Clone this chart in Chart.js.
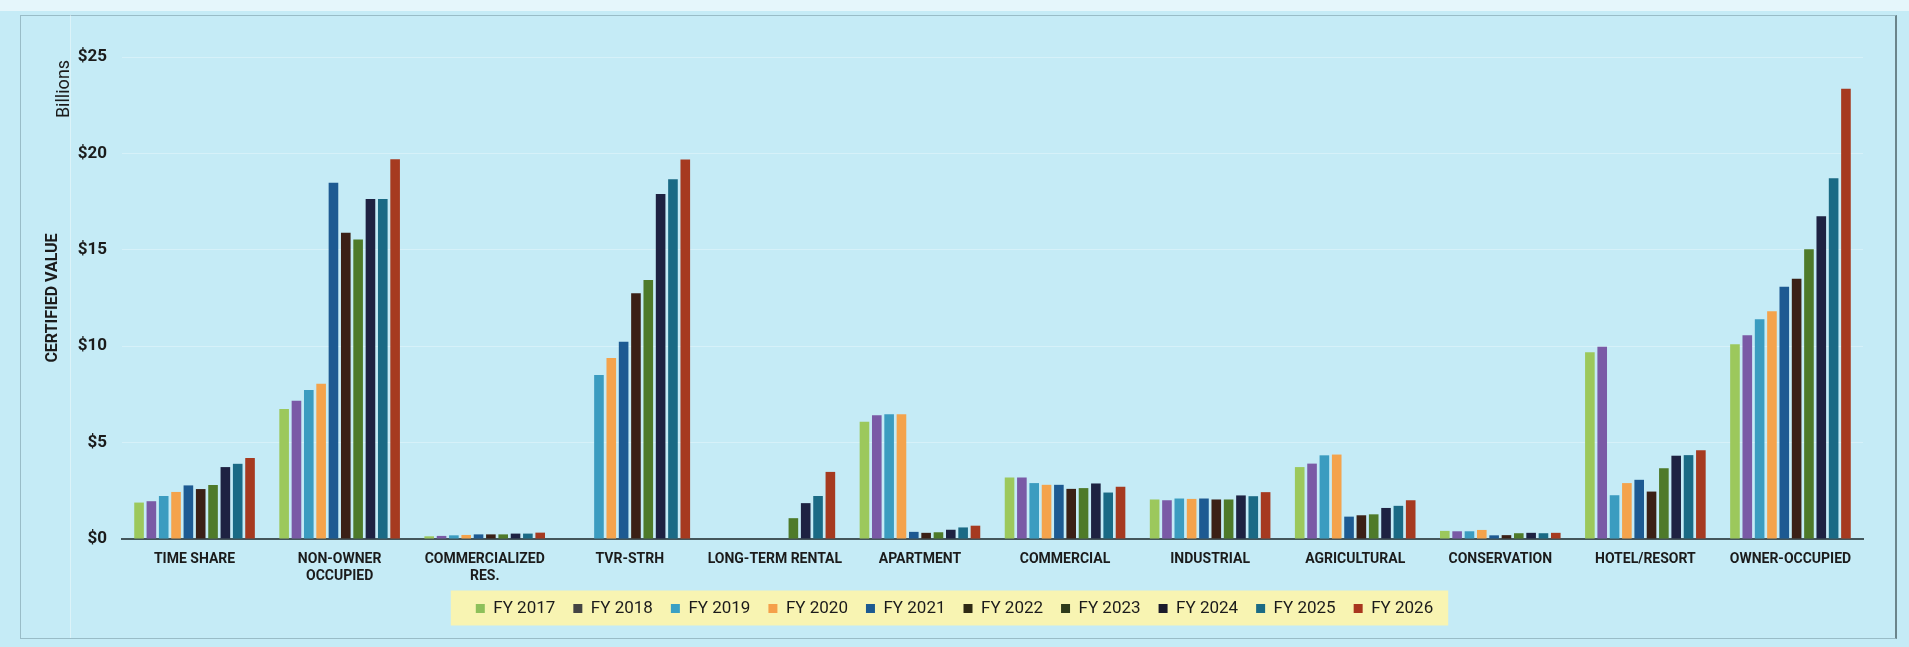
<!DOCTYPE html>
<html>
<head>
<meta charset="utf-8">
<script src="https://cdn.jsdelivr.net/npm/chart.js@4.4.1/dist/chart.umd.min.js"></script>
<style>
html, body { margin: 0; padding: 0; background: #c5ebf6; }
#wrap { position: relative; width: 1909px; height: 647px; overflow: hidden; }
.topband { position: absolute; left: 0; top: 0; width: 1909px; height: 11px; background: rgba(255,255,255,0.55); }
.frame { position: absolute; left: 20px; top: 15px; width: 1874px; height: 622px; border: 1px solid rgba(90,120,130,0.4); border-right: 2px solid #6a848b; }
.vline { position: absolute; left: 70px; top: 15px; width: 1px; height: 623px; background: rgba(255,255,255,0.4); }
canvas { position: absolute; left: 0; top: 0; }
</style>
</head>
<body>
<div id="wrap">
  <div class="topband"></div>
  <div class="frame"></div>
  <div class="vline"></div>
  <canvas id="valueChart" width="1909" height="647"></canvas>
</div>
<script>
const categories = [
    'TIME SHARE', ['NON-OWNER', 'OCCUPIED'], ['COMMERCIALIZED', 'RES.'], 'TVR-STRH',
    'LONG-TERM RENTAL', 'APARTMENT', 'COMMERCIAL', 'INDUSTRIAL', 'AGRICULTURAL',
    'CONSERVATION', 'HOTEL/RESORT', 'OWNER-OCCUPIED'
];
const years = ['FY 2017', 'FY 2018', 'FY 2019', 'FY 2020', 'FY 2021', 'FY 2022', 'FY 2023', 'FY 2024', 'FY 2025', 'FY 2026'];

// billions of dollars, one array per fiscal year
const fy2017 = [1.89, 6.74, 0.14, null, null, 6.08, 3.19, 2.05, 3.73, 0.42, 9.69, 10.10];
const fy2018 = [1.96, 7.17, 0.16, null, null, 6.42, 3.19, 2.01, 3.91, 0.40, 9.97, 10.57];
const fy2019 = [2.23, 7.73, 0.19, 8.50, null, 6.47, 2.90, 2.10, 4.34, 0.40, 2.27, 11.40];
const fy2020 = [2.44, 8.05, 0.21, 9.39, null, 6.47, 2.81, 2.08, 4.38, 0.47, 2.90, 11.81];
const fy2021 = [2.78, 18.48, 0.24, 10.23, null, 0.37, 2.81, 2.10, 1.16, 0.19, 3.07, 13.08];
const fy2022 = [2.59, 15.88, 0.24, 12.74, null, 0.32, 2.60, 2.05, 1.23, 0.20, 2.46, 13.50];
const fy2023 = [2.80, 15.54, 0.24, 13.43, 1.08, 0.35, 2.64, 2.05, 1.28, 0.30, 3.67, 15.03];
const fy2024 = [3.73, 17.64, 0.28, 17.90, 1.86, 0.48, 2.88, 2.26, 1.61, 0.32, 4.32, 16.74];
const fy2025 = [3.90, 17.64, 0.28, 18.66, 2.23, 0.60, 2.41, 2.22, 1.72, 0.30, 4.35, 18.71];
const fy2026 = [4.20, 19.70, 0.33, 19.68, 3.48, 0.69, 2.71, 2.43, 2.01, 0.32, 4.60, 23.35];
const series = [fy2017, fy2018, fy2019, fy2020, fy2021, fy2022, fy2023, fy2024, fy2025, fy2026];

const yTicks = [0, 5, 10, 15, 20, 25];

const barColors = ['#9cc85c', '#7a5aa6', '#3b9cc0', '#f4a34c', '#1d5a92', '#3b2016', '#4e7a2a', '#1e2242', '#1a6a85', '#a63a20'];
const legendColors = ['#8dc05a', '#444444', '#3aa0c4', '#f5a04a', '#1c5a91', '#2e2a14', '#2e3a1a', '#1a1a2a', '#1b6b84', '#a8361e'];

const textColor = '#1b1b1b';

const legendBg = {
    id: 'legendBg',
    beforeDraw(chart) {
        const boxes = chart.legend && chart.legend.legendHitBoxes;
        if (!boxes || !boxes.length) return;
        const left = Math.min(...boxes.map(b => b.left)) - 25;
        const right = Math.max(...boxes.map(b => b.left + b.width)) + 15;
        const mid = boxes[0].top + boxes[0].height / 2;
        const ctx = chart.ctx;
        ctx.save();
        ctx.fillStyle = '#f8f4b2';
        ctx.fillRect(left, mid - 18, right - left, 35);
        ctx.restore();
    }
};

const billionsLabel = {
    id: 'billionsLabel',
    afterDraw(chart) {
        const ctx = chart.ctx;
        ctx.save();
        ctx.translate(64, 89);
        ctx.rotate(-Math.PI / 2);
        ctx.font = '18px Roboto';
        ctx.fillStyle = textColor;
        ctx.textAlign = 'center';
        ctx.textBaseline = 'middle';
        ctx.fillText('Billions', 0, 0);
        ctx.restore();
    }
};

new Chart(document.getElementById('valueChart'), {
    type: 'bar',
    data: {
        labels: categories,
        datasets: years.map((y, i) => ({
            label: y,
            data: series[i],
            backgroundColor: barColors[i],
            borderWidth: 0,
            categoryPercentage: 0.85,
            barPercentage: 0.78
        }))
    },
    options: {
        responsive: false,
        animation: false,
        layout: { padding: { left: 0, right: 0, top: 57, bottom: 20 } },
        plugins: {
            tooltip: { enabled: false },
            legend: {
                position: 'bottom',
                labels: {
                    color: textColor,
                    font: { family: 'Roboto', size: 17 },
                    boxWidth: 9,
                    boxHeight: 9,
                    padding: 18,
                    generateLabels(chart) {
                        const items = Chart.defaults.plugins.legend.labels.generateLabels(chart);
                        items.forEach((it, i) => {
                            it.fillStyle = legendColors[i];
                            it.strokeStyle = legendColors[i];
                            it.lineWidth = 0;
                        });
                        return items;
                    }
                }
            }
        },
        scales: {
            x: {
                grid: { display: false },
                border: { display: true, color: '#44565b', width: 2 },
                ticks: {
                    color: textColor,
                    font: { family: 'Roboto', size: 14, weight: 'bold' },
                    padding: 4,
                    maxRotation: 0,
                    autoSkip: false
                },
                afterFit(scale) { scale.height = 43; }
            },
            y: {
                min: 0,
                max: 25,
                afterBuildTicks(scale) { scale.ticks = yTicks.map(v => ({ value: v })); },
                grid: { color: 'rgba(255,255,255,0.3)', drawTicks: false },
                border: { display: false },
                ticks: {
                    color: textColor,
                    font: { family: 'Roboto', size: 17, weight: 'bold' },
                    padding: 15,
                    callback: v => '$' + v
                },
                title: {
                    display: true,
                    text: 'CERTIFIED VALUE',
                    color: textColor,
                    font: { family: 'Roboto', size: 16, weight: 'bold' },
                    padding: { top: 43, bottom: 0 }
                },
                afterFit(scale) { scale.width = 122; }
            },
            // empty right-hand gutter so the legend stays centred on the page
            gutter: {
                type: 'linear',
                position: 'right',
                display: true,
                grid: { display: false },
                border: { display: false },
                ticks: { display: false },
                afterFit(scale) { scale.width = 46; }
            }
        }
    },
    plugins: [legendBg, billionsLabel]
});
</script>
</body>
</html>
